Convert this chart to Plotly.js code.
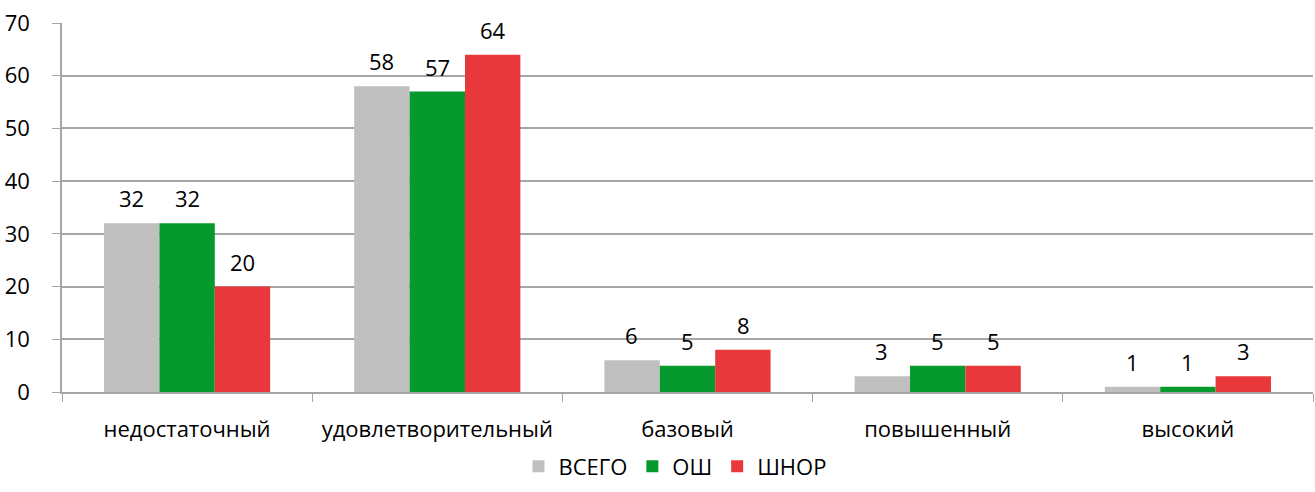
<!DOCTYPE html>
<html><head><meta charset="utf-8">
<script src="https://cdn.plot.ly/plotly-3.0.1.min.js"></script>
<style>body{margin:0;}#c{width:1315px;height:492px;}</style>
</head><body><div id="c"></div>
<script>
const categories = ["недостаточный","удовлетворительный","базовый","повышенный","высокий"];
const vsego = [32, 58, 6, 3, 1];
const osh = [32, 57, 5, 5, 1];
const shnor = [20, 64, 8, 5, 3];
const seriesNames = ["ВСЕГО","ОШ","ШНОР"];
const colors = ["#bfbfbf","#069a2e","#e8383b"];
const font = "Open Sans, Noto Sans, sans-serif";
const FS = 22;
const series = [vsego, osh, shnor];
const data = series.map((y, i) => ({type:'bar', name:seriesNames[i], x:categories, y, marker:{color:colors[i]}}));
const barPx = 55.8;
const annotations = [];
series.forEach((y, i) => y.forEach((v, j) => annotations.push({
  x:categories[j], y:v, text:String(v), showarrow:false, yanchor:'bottom',
  xshift:(i-1)*barPx, yshift:8, font:{size:FS, color:'#000', family:font}
})));
const layout = {
  width:1315, height:492,
  margin:{l:62, r:2, t:23, b:100},
  paper_bgcolor:'#fff', plot_bgcolor:'#fff',
  barmode:'group', bargap:0.336, bargroupgap:0,
  font:{family:font, size:FS, color:'#000'},
  annotations,
  xaxis:{type:'category', tickson:'boundaries', ticks:'outside', ticklen:8, tickcolor:'#a6a6a6',
    showgrid:false, showline:true, linecolor:'#a6a6a6', linewidth:1.5,
    tickfont:{size:FS, family:font}, ticklabelstandoff:17},
  yaxis:{range:[0,70], dtick:10, showgrid:true, gridcolor:'#a6a6a6', gridwidth:1.5,
    showline:true, linecolor:'#a6a6a6', linewidth:1.5, ticks:'outside', ticklen:8, tickcolor:'#a6a6a6',
    zeroline:false, tickfont:{size:FS, family:font}, ticklabelstandoff:18},
  showlegend:true,
  legend:{orientation:'h', xref:'paper', x:0.49, xanchor:'center', yref:'container', y:0.052, yanchor:'middle',
    font:{size:FS, family:font}, itemwidth:30, tracegroupgap:0}
};
Plotly.newPlot('c', data, layout, {displayModeBar:false});
</script></body></html>
